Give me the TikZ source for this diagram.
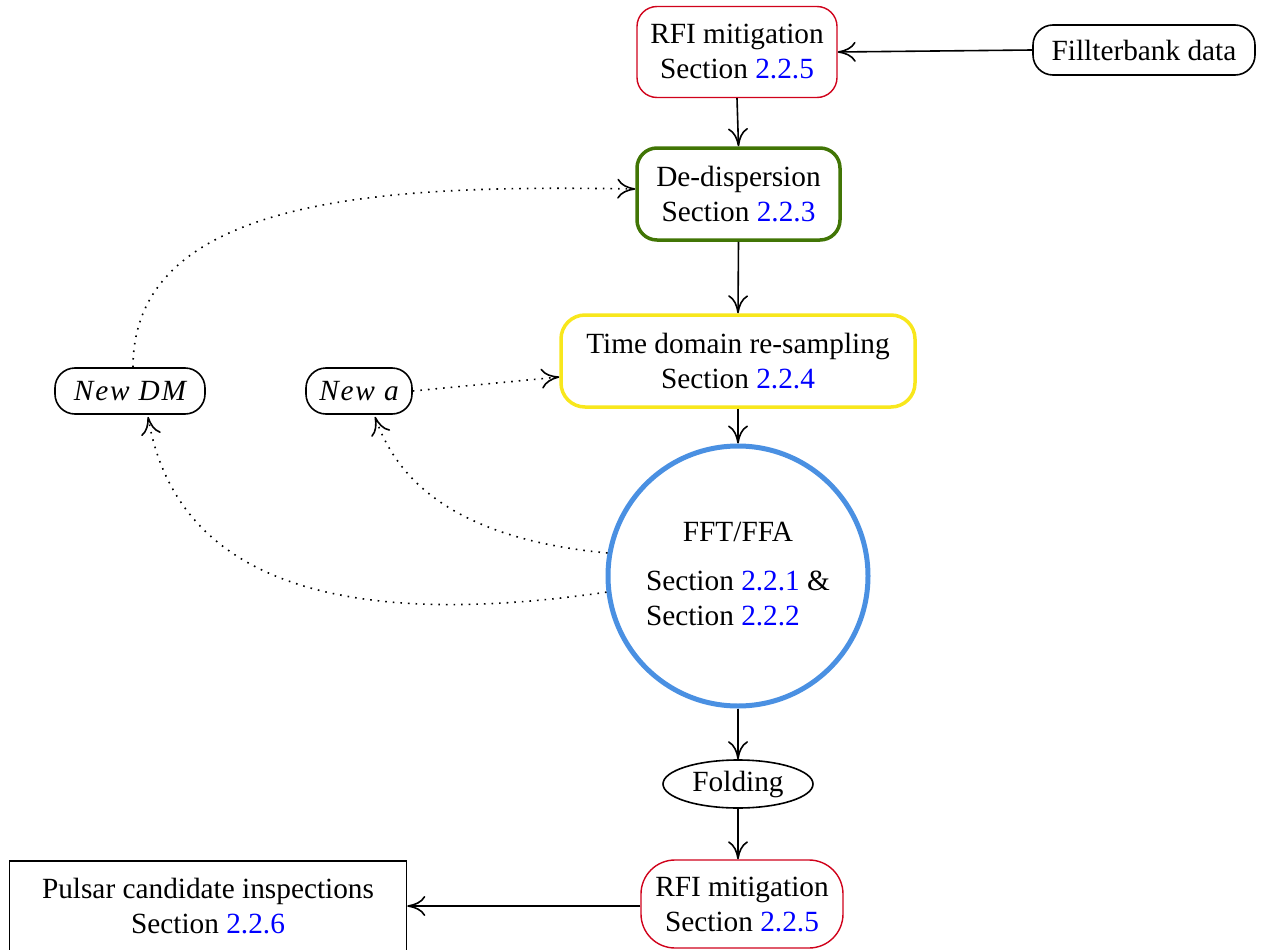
\documentclass[tikz,border=0pt]{standalone}
\usepackage{fontspec}
\setmainfont{Liberation Serif}
\newfontfamily\spit[LetterSpace=6.0]{Liberation Serif}
\usetikzlibrary{shapes.geometric,calc,arrows.meta}
\definecolor{cred}{HTML}{D0021B}
\definecolor{cgreen}{HTML}{417505}
\definecolor{cyellow}{HTML}{F8E71C}
\definecolor{cblue}{HTML}{4A90E2}
\definecolor{lnk}{RGB}{0,0,255}
\newcommand{\sref}[1]{\textcolor{lnk}{#1}}
\tikzset{
  base/.style={draw, inner sep=0pt, align=center, font=\fontsize{29.3}{35}\selectfont},
  rbox/.style={base, rounded corners=20pt},
  conn/.style={-{To[length=18pt,width=20pt,line width=1.6pt]}, line width=1.6pt},
  dconn/.style={-{To[length=18pt,width=20pt,line width=1.6pt]}, line width=1.6pt, dash pattern=on 1.6pt off 6pt},
}
\begin{document}
\begin{tikzpicture}[x=1pt,y=-1pt]
\useasboundingbox (0,0) rectangle (1267,950);
\node[rbox, draw=cred, line width=1.4pt, minimum width=200pt, minimum height=91pt] (RFI1) at (737,52) {RFI mitigation\\Section \sref{2.2.5}};
\node[rbox, line width=1.6pt, minimum width=222pt, minimum height=50pt] (FB) at (1144,50) {Fillterbank data};
\node[rbox, draw=cgreen, line width=3.5pt, minimum width=203pt, minimum height=92pt] (DD) at (738.5,194) {De-dispersion\\Section \sref{2.2.3}};
\node[rbox, rounded corners=24pt, draw=cyellow, line width=3.5pt, minimum width=354pt, minimum height=92pt] (TD) at (738,361) {Time domain re-sampling\\Section \sref{2.2.4}};
\node[base, circle, draw=cblue, line width=5pt, minimum size=260pt] (FFT) at (738,576) {\begin{tabular}{@{}l@{}}\multicolumn{1}{c}{FFT/FFA}\\[14pt] Section \sref{2.2.1} \&\\ Section \sref{2.2.2}\end{tabular}};
\node[base, ellipse, line width=1.6pt, minimum width=150pt, minimum height=48pt] (FO) at (738,784) {Folding};
\node[rbox, rounded corners=34pt, draw=cred, line width=1.4pt, minimum width=202pt, minimum height=88pt] (RFI2) at (742,904) {RFI mitigation\\Section \sref{2.2.5}};
\node[base, line width=1.6pt, minimum width=397pt, minimum height=90pt] (PC) at (208,906) {Pulsar candidate inspections\\Section \sref{2.2.6}};
\node[rbox, line width=1.6pt, minimum width=150pt, minimum height=46pt] (NDM) at (130,391) {\spit\itshape New DM};
\node[rbox, line width=1.6pt, minimum width=106pt, minimum height=46pt] (NA) at (359,391) {\spit\itshape New a};

\draw[conn] (FB.west) -- (RFI1.east);
\draw[conn] (RFI1.south) -- (DD.north);
\draw[conn] (DD.south) -- (TD.north);
\draw[conn] (TD.south) -- (FFT.north);
\draw[conn] (FFT.south) -- (FO.north);
\draw[conn] (FO.south) -- ($(RFI2.north)+(-4,0)$);
\draw[conn] ($(RFI2.west)+(0,2)$) -- (PC.east);

\draw[dconn] ($(NDM.north)+(3,0)$) .. controls +(0,-175) and +(-237,-4) .. ($(DD.west)+(0,-5)$);
\draw[dconn] (NA.east) -- ($(TD.west)+(0,16)$);
\draw[dconn] (FFT.170) .. controls +(-140,-13) and +(25,72) .. ($(NA.south)+(16,2)$);
\draw[dconn] (FFT.187) .. controls +(-228,33) and +(32,184) .. ($(NDM.south)+(18,2)$);
\end{tikzpicture}
\end{document}
